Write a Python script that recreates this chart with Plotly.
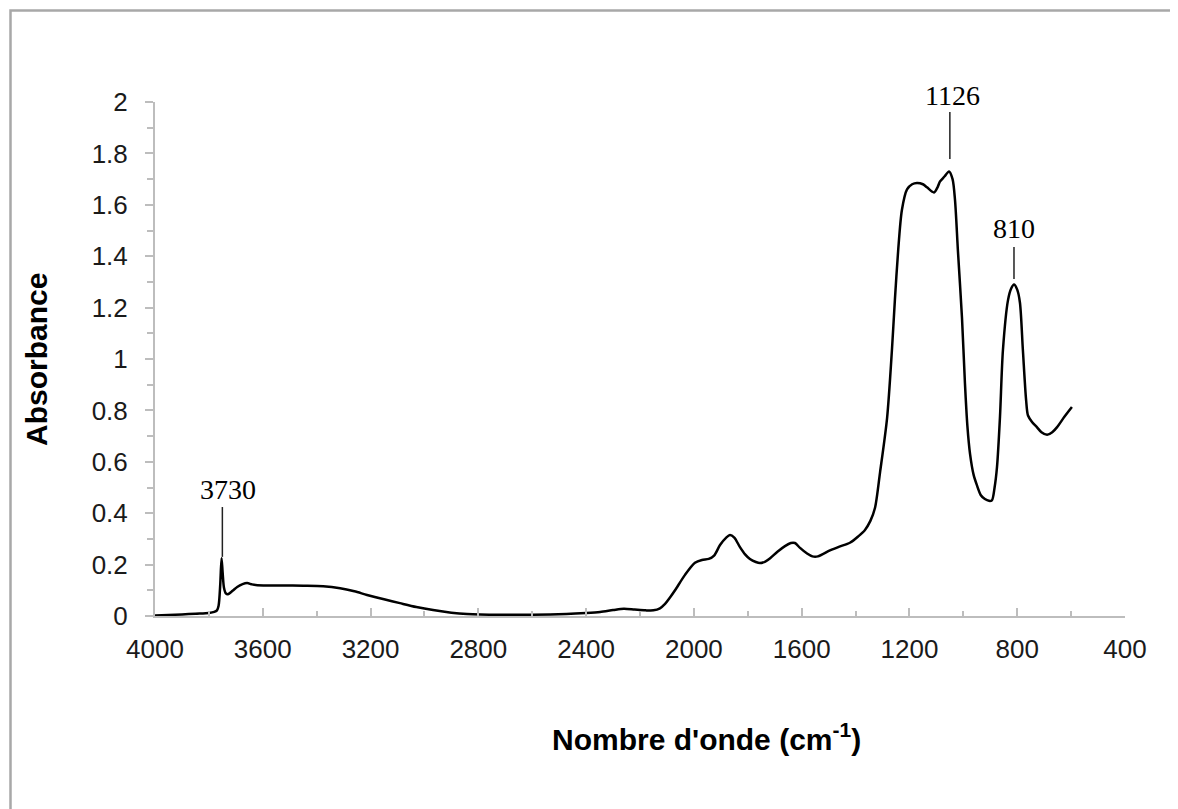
import plotly.graph_objects as go

# Wavenumber (cm-1) and absorbance
wavenumber = [4000, 3950, 3900, 3850, 3800, 3780, 3770, 3764, 3758, 3753, 3749, 3744, 3737, 3729,
              3712, 3695, 3675, 3658, 3640, 3620, 3525, 3450, 3376, 3313, 3260, 3213, 3150, 3091,
              3030, 2968, 2900, 2842, 2720, 2600, 2473, 2400, 2348, 2300, 2260, 2220, 2180, 2150,
              2126, 2107, 2090, 2070, 2033, 1996, 1970, 1945, 1925, 1903, 1880, 1866, 1850, 1829,
              1810, 1792, 1770, 1755, 1735, 1717, 1690, 1662, 1640, 1625, 1606, 1580, 1560, 1540,
              1495, 1460, 1421, 1390, 1365, 1345, 1328, 1309, 1283, 1265, 1254, 1242, 1228, 1209,
              1190, 1172, 1150, 1135, 1109, 1095, 1087, 1070, 1053, 1040, 1031, 1020, 1005, 994,
              985, 975, 962, 950, 935, 920, 905, 894, 884, 875, 864, 853, 834, 822, 812, 800, 790,
              779, 767, 760, 745, 727, 710, 689, 670, 652, 625, 597]
absorbance = [0.002, 0.004, 0.006, 0.009, 0.012, 0.016, 0.022, 0.04, 0.12, 0.225, 0.17, 0.11, 0.088, 0.085,
              0.098, 0.113, 0.124, 0.128, 0.123, 0.12, 0.119, 0.118, 0.116, 0.108, 0.096, 0.082, 0.065, 0.05,
              0.035, 0.023, 0.013, 0.008, 0.005, 0.005, 0.008, 0.012, 0.016, 0.023, 0.028, 0.025, 0.022, 0.022,
              0.03, 0.047, 0.07, 0.10, 0.16, 0.207, 0.218, 0.222, 0.235, 0.276, 0.305, 0.315, 0.305, 0.268,
              0.24, 0.222, 0.21, 0.206, 0.212, 0.225, 0.25, 0.272, 0.284, 0.284, 0.265, 0.243, 0.232, 0.232,
              0.255, 0.27, 0.285, 0.31, 0.335, 0.37, 0.42, 0.56, 0.77, 1.035, 1.23, 1.42, 1.58, 1.66,
              1.68, 1.685, 1.68, 1.668, 1.648, 1.67, 1.69, 1.71, 1.73, 1.70, 1.62, 1.42, 1.16, 0.905,
              0.74, 0.63, 0.55, 0.51, 0.47, 0.455, 0.448, 0.45, 0.5, 0.58, 0.775, 1.035, 1.23, 1.275, 1.29, 1.27, 1.22,
              1.035, 0.84, 0.78, 0.755, 0.735, 0.715, 0.705, 0.715, 0.735, 0.775, 0.813]

# Peak labels: text, label position, leader line (x, y_top, y_bottom)
peak_labels = ["3730", "1126", "810"]
label_x = [3729, 1042, 812]
label_y = [0.494, 2.027, 1.506]
leader_x = [3750, 1050, 812]
leader_top = [0.424, 1.961, 1.436]
leader_bottom = [0.23, 1.778, 1.311]

x_ticks = [4000, 3600, 3200, 2800, 2400, 2000, 1600, 1200, 800, 400]

# page-pixel geometry (the html body adds an 8px offset)
OFF = 8
PAGE_W, PAGE_H = 1178, 809
L, R, T, B = 155, 1125, 102, 616
W, H = PAGE_W - OFF, PAGE_H - OFF

fig = go.Figure()
fig.add_trace(go.Scatter(x=wavenumber, y=absorbance, mode="lines",
                         line=dict(color="#000000", width=2.5, shape="spline", smoothing=0.8),
                         showlegend=False, hoverinfo="skip"))

axis_col = "#bdbdbd"
tick_font = dict(family="Liberation Sans, Arial, sans-serif", size=26, color="#1a1a1a")

fig.update_xaxes(range=[4000, 400], tickvals=x_ticks, ticktext=[str(v) for v in x_ticks],
                 showline=True, linecolor=axis_col, linewidth=2, mirror=False,
                 ticks="inside", ticklen=8, tickwidth=1.5, tickcolor=axis_col,
                 minor=dict(ticks="inside", ticklen=5, dtick=200, tick0=0, tickcolor=axis_col, tickwidth=1.5),
                 showgrid=False, zeroline=False, tickfont=tick_font, ticklabelstandoff=9)
fig.update_yaxes(range=[0, 2], dtick=0.2, tick0=0,
                 showline=True, linecolor=axis_col, linewidth=2,
                 ticks="outside", ticklen=8, tickwidth=1.5, tickcolor=axis_col,
                 minor=dict(ticks="outside", ticklen=6, dtick=0.1, tickcolor=axis_col, tickwidth=1.5),
                 showgrid=False, zeroline=False, tickfont=tick_font, ticklabelstandoff=12)

def px_x(p):
    return (p - L) / (R - L)

def px_y(p):
    return (B - p) / (B - T)

def data_to_py(a):
    return B - a * (B - T) / 2.0

shapes = [dict(type="rect", xref="paper", yref="paper",
               x0=px_x(10.5), x1=px_x(1250), y0=px_y(880), y1=px_y(10.5),
               line=dict(color="#a8a8a8", width=2.5), layer="below")]
for xv, yt, yb in zip(leader_x, leader_top, leader_bottom):
    shapes.append(dict(type="line", xref="x", yref="paper", x0=xv, x1=xv,
                       y0=px_y(data_to_py(yb)), y1=px_y(data_to_py(yt)),
                       line=dict(color="#222222", width=1.5)))

annotations = []
for t, xv, yv in zip(peak_labels, label_x, label_y):
    annotations.append(dict(text=t, x=xv, y=px_y(data_to_py(yv)), xref="x", yref="paper", showarrow=False,
                            xanchor="center", yanchor="middle",
                            font=dict(family="Liberation Serif, Times New Roman, serif", size=28, color="#000000")))

title_font = dict(family="Liberation Sans, Arial, sans-serif", size=30, color="#000000")
annotations.append(dict(text="<b>Nombre d'onde (cm<sup>-1</sup>)</b>", xref="paper", yref="paper",
                        x=px_x(706), y=px_y(737), showarrow=False, xanchor="center", yanchor="middle",
                        font=title_font))
annotations.append(dict(text="<b>Absorbance</b>", xref="paper", yref="paper", textangle=-90,
                        x=px_x(36), y=px_y(360), showarrow=False, xanchor="center", yanchor="middle",
                        font=title_font))

fig.update_layout(width=W, height=H,
                  margin=dict(l=L - OFF, r=PAGE_W - R, t=T - OFF, b=PAGE_H - B, pad=0),
                  paper_bgcolor="white", plot_bgcolor="white",
                  shapes=shapes, annotations=annotations, showlegend=False)

fig.write_html("out.html")
